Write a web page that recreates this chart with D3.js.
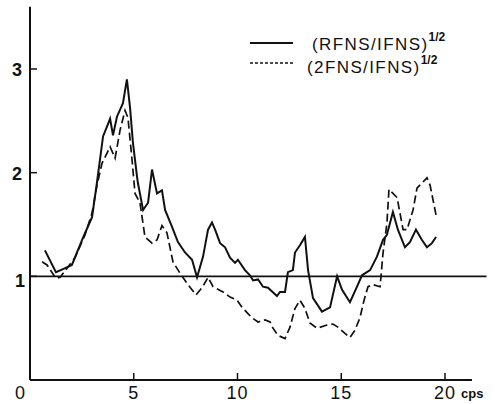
<!DOCTYPE html>
<html>
<head>
<meta charset="utf-8">
<script src="https://cdn.jsdelivr.net/npm/d3@7"></script>
<style>
  body { margin: 0; background: #fff; }
  text { font-family: "Liberation Sans", Arial, sans-serif; fill: #111; }
</style>
</head>
<body>
<div id="container"></div>
<script>
/* DATA */
// (RFNS/IFNS)^1/2  -- solid
const rfnsX = [0.72,1.25,1.59,2.02,2.55,2.99,3.23,3.37,3.52,3.86,4.0,4.19,4.48,4.67,4.82,4.96,5.16,5.2,5.45,5.69,5.88,6.12,6.36,6.51,6.84,7.13,7.47,7.81,8.05,8.34,8.58,8.77,8.92,9.16,9.40,9.64,9.88,10.02,10.36,10.60,10.75,10.99,11.23,11.47,11.90,12.05,12.29,12.43,12.67,12.77,13.01,13.25,13.40,13.64,14.07,14.46,14.80,15.04,15.42,15.76,16.0,16.39,16.72,17.01,17.2,17.49,17.73,18.07,18.31,18.6,18.89,19.13,19.37,19.57]
const rfnsY = [1.25,1.04,1.07,1.11,1.37,1.57,1.91,2.12,2.35,2.52,2.36,2.54,2.67,2.90,2.63,2.29,1.96,1.90,1.64,1.71,2.03,1.80,1.83,1.64,1.48,1.33,1.23,1.16,0.99,1.19,1.45,1.52,1.45,1.32,1.28,1.18,1.13,1.16,1.06,1.01,0.96,0.97,0.90,0.89,0.81,0.85,0.85,1.04,1.06,1.23,1.30,1.38,1.06,0.79,0.66,0.70,1.00,0.87,0.75,0.90,1.01,1.06,1.19,1.35,1.40,1.62,1.45,1.28,1.33,1.45,1.35,1.28,1.32,1.38]

// (2FNS/IFNS)^1/2  -- dashed
const twofnsX = [0.58,0.82,1.25,1.45,1.83,2.17,2.65,2.99,3.23,3.47,3.86,4.10,4.34,4.58,4.72,4.92,5.06,5.30,5.54,5.88,6.12,6.36,6.60,6.89,7.23,7.61,8.0,8.29,8.58,8.82,9.30,9.64,9.98,10.22,10.46,10.70,10.99,11.33,11.57,11.71,11.95,12.29,12.53,12.77,13.01,13.25,13.49,13.83,14.31,14.60,14.84,15.18,15.42,15.66,15.90,16.10,16.29,16.53,16.87,16.92,17.01,17.2,17.3,17.69,17.98,18.17,18.46,18.65,19.13,19.28,19.57]
const twofnsY = [1.14,1.11,0.98,0.99,1.09,1.18,1.40,1.61,1.88,2.09,2.25,2.14,2.41,2.60,2.53,2.12,1.80,1.71,1.38,1.32,1.35,1.49,1.42,1.14,1.03,0.92,0.82,0.89,0.99,0.90,0.85,0.80,0.77,0.70,0.65,0.60,0.56,0.58,0.56,0.50,0.43,0.40,0.51,0.69,0.77,0.69,0.55,0.50,0.53,0.54,0.51,0.45,0.41,0.48,0.60,0.77,0.90,0.92,0.90,1.01,1.22,1.51,1.84,1.76,1.45,1.45,1.64,1.85,1.95,1.88,1.59]

const xTicks = [5, 10, 15, 20]
const yTicks = [1, 2, 3]
const legendLabels = ["(RFNS/IFNS)", "(2FNS/IFNS)"]
const legendSup = ["1/2", "1/2"]

/* CONSTANTS */
const width = 495, height = 404

const svg = d3.select("#container")
  .append("svg")
   .attr("width", width)
   .attr("height", height)

/* SCALES */
const xScale = d3.scaleLinear()
  .domain([0, 20])
  .range([30, 445])

const yScale = d3.scaleLinear()
  .domain([0, 3])
  .range([380, 69])

const ink = "#111"

// axes lines
svg.append("line")
  .attr("x1", xScale(0)).attr("x2", xScale(0))
  .attr("y1", yScale(0)).attr("y2", yScale(3.6))
  .attr("stroke", ink).attr("stroke-width", 2)

svg.append("line")
  .attr("x1", xScale(0)).attr("x2", xScale(21.3))
  .attr("y1", yScale(0)).attr("y2", yScale(0))
  .attr("stroke", ink).attr("stroke-width", 2)

// reference line at 1
svg.append("line")
  .attr("x1", xScale(0)).attr("x2", xScale(22))
  .attr("y1", yScale(1)).attr("y2", yScale(1))
  .attr("stroke", ink).attr("stroke-width", 1.6)

// ticks (inward)
svg.selectAll("line.xtick")
  .data(xTicks)
  .join("line")
  .attr("class", "xtick")
  .attr("x1", d => xScale(d)).attr("x2", d => xScale(d))
  .attr("y1", yScale(0)).attr("y2", yScale(0) - 7)
  .attr("stroke", ink).attr("stroke-width", 1.5)

svg.selectAll("line.ytick")
  .data(yTicks)
  .join("line")
  .attr("class", "ytick")
  .attr("x1", xScale(0)).attr("x2", xScale(0) + 7)
  .attr("y1", d => yScale(d)).attr("y2", d => yScale(d))
  .attr("stroke", ink).attr("stroke-width", 1.5)

// tick labels
svg.selectAll("text.xlab")
  .data(xTicks)
  .join("text")
  .attr("class", "xlab")
  .attr("x", d => xScale(d))
  .attr("y", yScale(0) + 19)
  .attr("text-anchor", "middle")
  .style("font-size", "18px")
  .style("letter-spacing", "1px")
  .text(d => d)

svg.append("text")
  .attr("x", xScale(20) + 16)
  .attr("y", yScale(0) + 18)
  .style("font-size", "13px")
  .style("font-weight", "bold")
  .text("cps")

svg.append("text")
  .attr("x", xScale(0) - 10)
  .attr("y", yScale(0) + 19)
  .attr("text-anchor", "middle")
  .style("font-size", "18px")
  .text("0")

svg.selectAll("text.ylab")
  .data(yTicks)
  .join("text")
  .attr("class", "ylab")
  .attr("x", d => d === 1 ? 20 : 17)
  .attr("y", d => yScale(d) + (d === 1 ? 11 : 7))
  .attr("text-anchor", "middle")
  .style("font-size", "18px")
  .style("font-weight", "bold")
  .text(d => d)

/* LINES */
const line = d3.line()
  .x(d => xScale(d[0]))
  .y(d => yScale(d[1]))

const rfns = rfnsX.map((x, i) => [x, rfnsY[i]])
const twofns = twofnsX.map((x, i) => [x, twofnsY[i]])

svg.append("path")
  .datum(twofns)
  .attr("d", line)
  .attr("fill", "none")
  .attr("stroke", ink)
  .attr("stroke-width", 1.7)
  .attr("stroke-dasharray", "8,4")

svg.append("path")
  .datum(rfns)
  .attr("d", line)
  .attr("fill", "none")
  .attr("stroke", ink)
  .attr("stroke-width", 2)

/* LEGEND */
const legend = svg.append("g")
legend.selectAll("line")
  .data(legendLabels)
  .join("line")
  .attr("x1", 250).attr("x2", 293)
  .attr("y1", (d, i) => 43 + i * 20).attr("y2", (d, i) => 43 + i * 20)
  .attr("stroke", ink)
  .attr("stroke-width", (d, i) => i === 0 ? 1.8 : 1.4)
  .attr("stroke-dasharray", (d, i) => i === 0 ? null : "3,2")

const lt = legend.selectAll("text")
  .data(legendLabels)
  .join("text")
  .attr("x", (d, i) => i === 0 ? 312 : 307)
  .attr("y", (d, i) => 50 + i * 23)
  .style("font-size", "17px")
  .style("letter-spacing", "1.4px")

lt.append("tspan").text(d => d)
lt.append("tspan")
  .attr("dy", -9)
  .style("font-size", "12px")
  .style("font-weight", "bold")
  .style("letter-spacing", "0px")
  .text((d, i) => legendSup[i])
</script>
</body>
</html>
